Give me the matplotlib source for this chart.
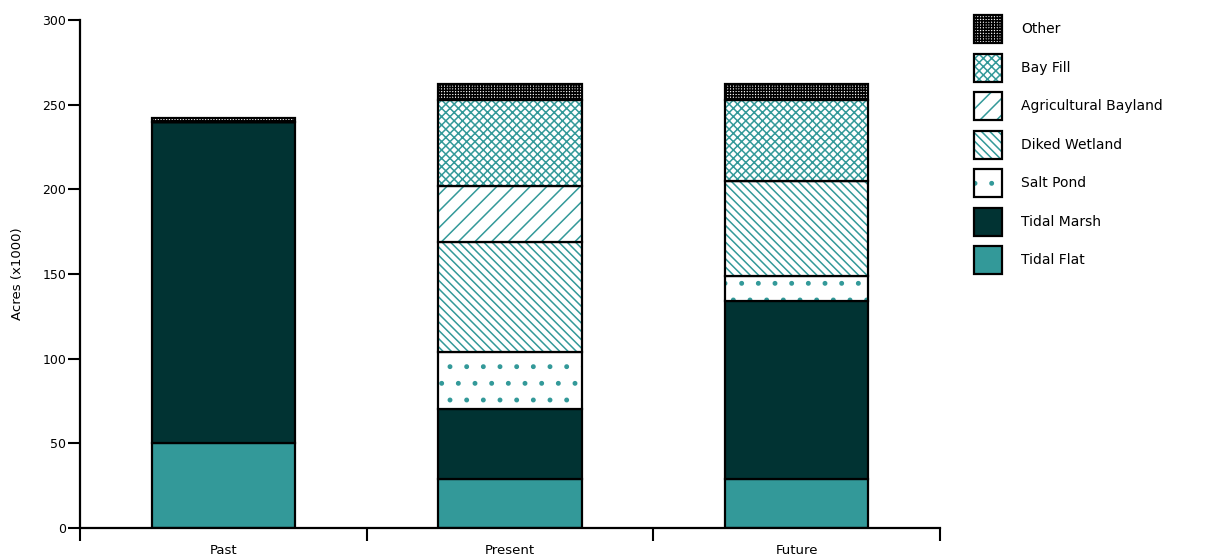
import matplotlib.pyplot as plt
from matplotlib.patches import Patch
from matplotlib.legend_handler import HandlerTuple

periods = ['Past', 'Present', 'Future']
layers = ['Tidal Flat', 'Tidal Marsh', 'Salt Pond', 'Diked Wetland',
          'Agricultural Bayland', 'Bay Fill', 'Other']
tidal_flat = [50, 29, 29]
tidal_marsh = [190, 41, 105]
salt_pond = [0, 34, 15]
diked_wetland = [0, 65, 56]
ag_bayland = [0, 33, 0]
bay_fill = [0, 51, 48]
other = [2, 9, 9]
values = [tidal_flat, tidal_marsh, salt_pond, diked_wetland, ag_bayland, bay_fill, other]

teal = '#339999'
dark = '#013333'
# (facecolor, hatch, hatch colour)
styles = [(teal, None, teal),
          (dark, None, dark),
          ('white', '.', teal),
          ('white', '\\\\\\\\', teal),
          ('white', '//', teal),
          ('white', 'xxxx', teal),
          ('white', '++++++', 'black')]

plt.rcParams['hatch.linewidth'] = 1.1
plt.rcParams['font.family'] = 'DejaVu Sans'

fig = plt.figure(figsize=(12.12, 5.59), dpi=100)
ax = fig.add_axes([0.066, 0.056, 0.7096, 0.908])

x = range(len(periods))
bottom = [0, 0, 0]
handles = []
for vals, name, (fc, hatch, hc) in zip(values, layers, styles):
    ax.bar(x, vals, width=0.5, bottom=bottom, color=fc, hatch=hatch,
           edgecolor=hc, linewidth=0)
    ax.bar(x, vals, width=0.5, bottom=bottom, fill=False,
           edgecolor='black', linewidth=1.6)
    bottom = [b + v for b, v in zip(bottom, vals)]
    h1 = Patch(facecolor=fc, hatch=hatch, edgecolor=hc, linewidth=0)
    h2 = Patch(fill=False, edgecolor='black', linewidth=1.6)
    handles.append((h1, h2))

ax.set_xlim(-0.5, 2.5)
ax.set_ylim(0, 300)
ax.set_yticks(range(0, 301, 50))
ax.set_xticks([-0.5, 0.5, 1.5, 2.5])
ax.set_xticklabels([])
ax.set_xticks(list(x), minor=True)
ax.set_xticklabels(periods, minor=True, fontsize=9.5)
ax.tick_params(axis='x', which='major', length=9, width=1.5, direction='out')
ax.tick_params(axis='x', which='minor', length=0, pad=12)
ax.tick_params(axis='y', length=9, width=1.5, labelsize=9, pad=1)
for s in ['top', 'right']:
    ax.spines[s].set_visible(False)
for s in ['left', 'bottom']:
    ax.spines[s].set_linewidth(1.6)
ax.set_ylabel('Acres (x1000)', fontsize=9.5, labelpad=13)

fig.legend(handles[::-1], layers[::-1], loc='upper left',
           bbox_to_anchor=(0.799, 0.983), frameon=False, fontsize=10,
           handlelength=2.0, handleheight=2.72, labelspacing=0.76,
           handletextpad=1.4, borderaxespad=0,
           handler_map={tuple: HandlerTuple(ndivide=1)})

fig.savefig('out.png', dpi=100)
